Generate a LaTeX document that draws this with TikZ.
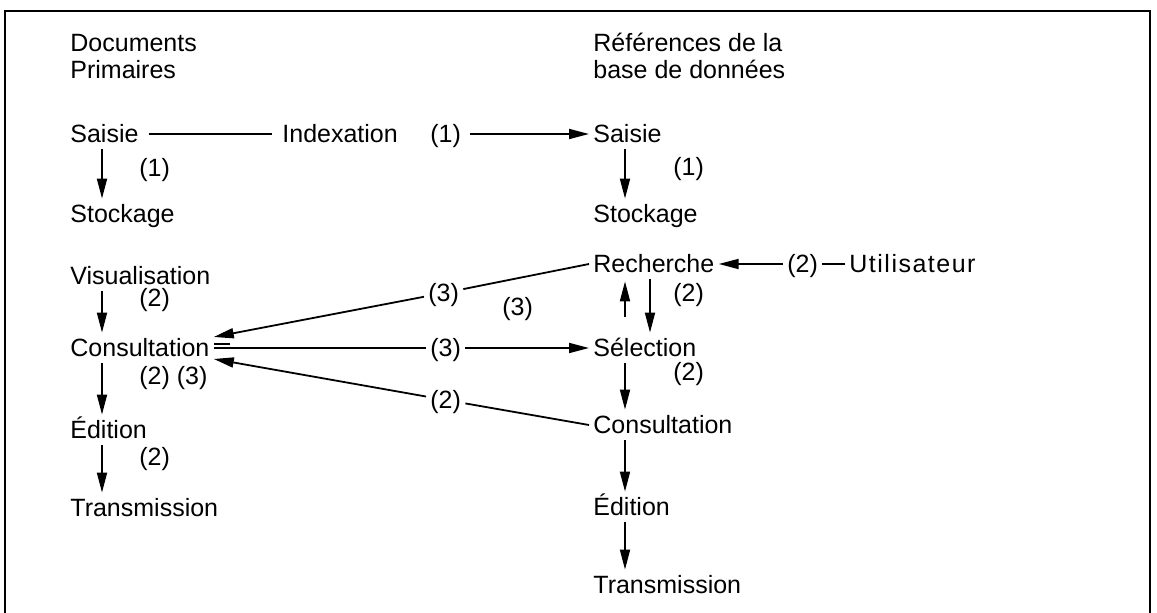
\documentclass[tikz,border=0pt]{standalone}
\usepackage{fontspec}
\setmainfont{Liberation Sans}
\usetikzlibrary{arrows.meta,positioning}

\begin{document}
\begin{tikzpicture}[x=0.5pt, y=-0.5pt,
            font=\fontsize{12.5}{13.5}\selectfont,
            every node/.style={anchor=west, align=left, inner xsep=2pt, inner ysep=2pt,
                text height=9pt, text depth=0pt},
            line/.style={draw, line width=0.9pt},
            flow/.style={line, -{Triangle[length=10pt,width=5pt]}},
            down/.style={flow, shorten <=1pt, shorten >=1pt},
            gap/.style={shorten <=3pt, shorten >=3pt}]
        \useasboundingbox (0,0) rectangle (1157,613);
        \draw[line width=0.75pt] (5,613) |- (1150,11) -- (1150,613);

        % documents primaires
        \node (docs) at (66,70) {Documents\\Primaires};
        \node (sai1) at (66,134) {Saisie};
        \node (sto1) at (66,214) {Stockage};
        \node (vis1) at (66,276) {Visualisation};
        \node (con1) at (66,348) {Consultation};
        \node (edi1) at (66,430) {Édition};
        \node (tra1) at (66,508) {Transmission};
        \node (l1a) at (135,168) {(1)};
        \node (l2a) at (135,298) {(2)};
        \node (l23) at (135,376) {(2) (3)};
        \node (l2b) at (135,457) {(2)};

        % references de la base
        \node (refs) at (589,70) {Références de la\\base de données};
        \node (sai2) at (589,134) {Saisie};
        \node (sto2) at (589,214) {Stockage};
        \node (rec) at (589,264) {Recherche};
        \node (sel) at (589,348) {Sélection};
        \node (con2) at (589,425) {Consultation};
        \node (edi2) at (589,507) {Édition};
        \node (tra2) at (589,585) {Transmission};
        \node (l1b) at (669,167) {(1)};
        \node (l2c) at (669,293) {(2)};
        \node (l2d) at (669,372) {(2)};

        % liaisons
        \node (idx) at (278,134) {Indexation};
        \node (l1i) at (426,134) {(1)};
        \node (l3r) at (424,293) {(3)};
        \node (l3m) at (498,307) {(3)};
        \node (l3s) at (426,348) {(3)};
        \node (l2s) at (426,400) {(2)};
        \node (l2u) at (783,264) {(2)};
        \node (usr) at (845,264) {\addfontfeature{LetterSpace=6}Utilisateur};

        \draw[line, gap] (sai1) -- (idx);
        \draw[flow, shorten <=2.5pt] (l1i) -- (sai2);
        \draw[line] (usr) -- (l2u);
        \draw[flow] (l2u) -- (rec);
        \draw[line] (rec.west) -- (l3r);
        \draw[flow] (l3r) -- ([yshift=5.5pt]con1.east);
        \draw[line] (con1.east) -- (l3s);
        \draw[line] ([yshift=1.8pt]con1.east) -- ++(8pt,0);
        \draw[flow] (l3s) -- (sel);
        \draw[line] (con2.west) -- (l2s);
        \draw[flow] (l2s) -- ([yshift=-5.5pt]con1.east);

        \draw[down] ([xshift=18pt]sai1.south west) -- ([xshift=18pt]sto1.north west);
        \draw[down] ([xshift=18pt]vis1.south west) -- ([xshift=18pt]con1.north west);
        \draw[down] ([xshift=18pt]con1.south west) -- ([xshift=18pt]edi1.north west);
        \draw[down] ([xshift=18pt]edi1.south west) -- ([xshift=18pt]tra1.north west);

        \draw[down] ([xshift=18pt]sai2.south west) -- ([xshift=18pt]sto2.north west);
        \draw[down, shorten <=9pt, shorten >=2pt] ([xshift=18pt]sel.north west) -- ([xshift=18pt]rec.south west);
        \draw[down] ([xshift=30.5pt]rec.south west) -- ([xshift=30.5pt]sel.north west);
        \draw[down] ([xshift=18pt]sel.south west) -- ([xshift=18pt]con2.north west);
        \draw[down] ([xshift=18pt]con2.south west) -- ([xshift=18pt]edi2.north west);
        \draw[down] ([xshift=18pt]edi2.south west) -- ([xshift=18pt]tra2.north west);
    \end{tikzpicture}
\end{document}
